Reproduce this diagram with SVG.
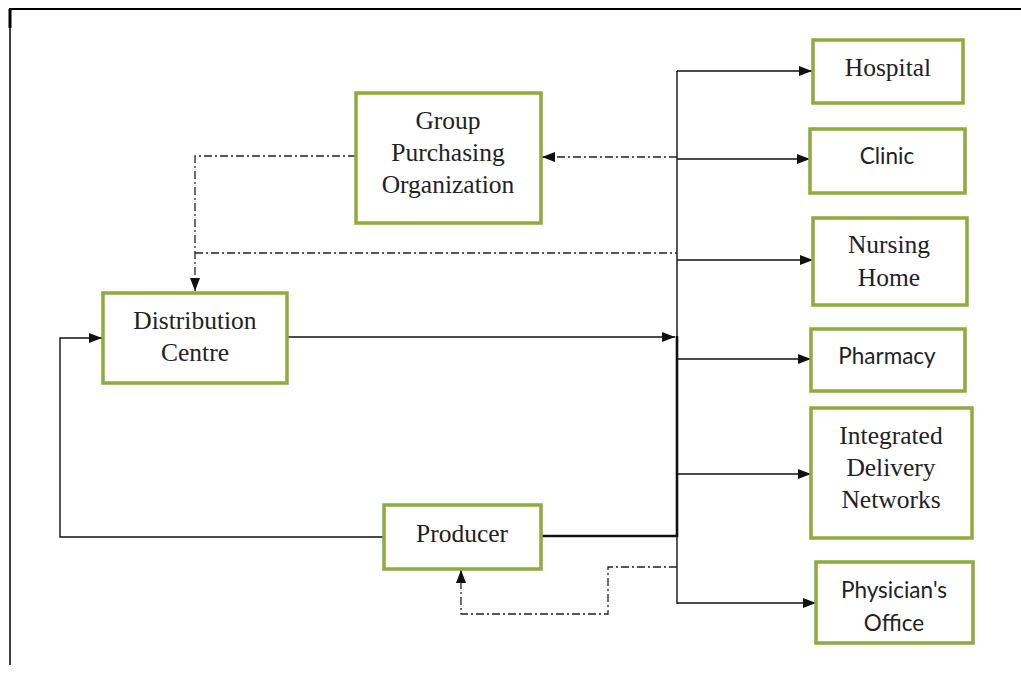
<svg xmlns="http://www.w3.org/2000/svg" width="1021" height="673" viewBox="0 0 1021 673">
  <style>
    .box { fill: #ffffff; stroke: #8fab3e; stroke-width: 3.5; }
    .serif { font-family: "Liberation Serif", "Times New Roman", serif; font-size: 25.5px; fill: #222; text-anchor: middle; }
    .sans { font-family: Lato, "Open Sans", sans-serif; font-size: 22.5px; fill: #222; text-anchor: middle; }
    .flow { fill: none; stroke: #111; stroke-width: 1.4; }
    .thick { fill: none; stroke: #111; stroke-width: 2.6; }
    .info { fill: none; stroke: #222; stroke-width: 1.3; stroke-dasharray: 8 3 2 3; }
  </style>
  <defs>
    <marker id="arrow" viewBox="0 0 13 10" refX="13" refY="5" markerWidth="13" markerHeight="10" markerUnits="userSpaceOnUse" orient="auto">
      <path d="M0,0 L13,5 L0,10 Z" fill="#111"/>
    </marker>
  </defs>

  <rect width="1021" height="673" fill="#ffffff"/>

  <!-- page frame -->
  <g id="frame">
    <line x1="9" y1="9" x2="1021" y2="9" stroke="#000" stroke-width="2.2"/>
    <line x1="10" y1="9" x2="10" y2="28" stroke="#000" stroke-width="3"/>
    <line x1="10" y1="28" x2="10" y2="665" stroke="#000" stroke-width="1.5"/>
  </g>

  <!-- connectors -->
  <g id="connectors">
    <!-- supply trunk -->
    <line class="flow" x1="677" y1="71" x2="677" y2="337"/>
    <line class="thick" x1="677" y1="336" x2="677" y2="537"/>
    <line class="flow" x1="677" y1="536" x2="677" y2="604"/>
    <!-- branches to customers -->
    <line class="flow" x1="677" y1="71" x2="812" y2="71" marker-end="url(#arrow)"/>
    <line class="flow" x1="677" y1="159" x2="810" y2="159" marker-end="url(#arrow)"/>
    <line class="flow" x1="677" y1="260" x2="813" y2="260" marker-end="url(#arrow)"/>
    <line class="flow" x1="677" y1="359" x2="811" y2="359" marker-end="url(#arrow)"/>
    <line class="flow" x1="677" y1="474" x2="811" y2="474" marker-end="url(#arrow)"/>
    <line class="flow" x1="677" y1="603" x2="816" y2="603" marker-end="url(#arrow)"/>
    <!-- distribution centre to trunk -->
    <line class="flow" x1="287" y1="337" x2="675" y2="337" marker-end="url(#arrow)"/>
    <!-- producer to trunk -->
    <line class="thick" x1="541" y1="536" x2="677" y2="536"/>
    <!-- producer back to distribution centre -->
    <polyline class="flow" points="384,537 60,537 60,338 102,338" marker-end="url(#arrow)"/>
    <!-- information flows -->
    <line class="info" x1="677" y1="157" x2="542" y2="157" marker-end="url(#arrow)"/>
    <polyline class="info" points="356,156 195,156 195,291" marker-end="url(#arrow)"/>
    <line class="info" x1="195" y1="253" x2="677" y2="253"/>
    <polyline class="info" points="677,567 608,567 608,614 461,614 461,570" marker-end="url(#arrow)"/>
  </g>

  <!-- nodes -->
  <g id="gpo">
    <rect class="box" x="356" y="93" width="185" height="130"/>
    <text class="serif" x="448" y="129">Group</text>
    <text class="serif" x="448" y="161">Purchasing</text>
    <text class="serif" x="448" y="193">Organization</text>
  </g>
  <g id="distribution-centre">
    <rect class="box" x="103" y="293" width="184" height="90"/>
    <text class="serif" x="195" y="329">Distribution</text>
    <text class="serif" x="195" y="361">Centre</text>
  </g>
  <g id="producer">
    <rect class="box" x="384" y="505" width="157" height="64"/>
    <text class="serif" x="462" y="542">Producer</text>
  </g>
  <g id="hospital">
    <rect class="box" x="813" y="40" width="150" height="63"/>
    <text class="serif" x="888" y="76">Hospital</text>
  </g>
  <g id="clinic">
    <rect class="box" x="810" y="129" width="155" height="64"/>
    <text class="sans" x="887" y="164">Clinic</text>
  </g>
  <g id="nursing-home">
    <rect class="box" x="813" y="218" width="154" height="87"/>
    <text class="serif" x="889" y="253">Nursing</text>
    <text class="serif" x="889" y="286">Home</text>
  </g>
  <g id="pharmacy">
    <rect class="box" x="811" y="329" width="154" height="62"/>
    <text class="sans" x="887" y="364">Pharmacy</text>
  </g>
  <g id="idn">
    <rect class="box" x="811" y="408" width="161" height="130"/>
    <text class="serif" x="891" y="444">Integrated</text>
    <text class="serif" x="891" y="476">Delivery</text>
    <text class="serif" x="891" y="508">Networks</text>
  </g>
  <g id="physicians-office">
    <rect class="box" x="816" y="562" width="157" height="81"/>
    <text class="sans" x="894" y="598">Physician's</text>
    <text class="sans" x="894" y="631">Office</text>
  </g>
</svg>
